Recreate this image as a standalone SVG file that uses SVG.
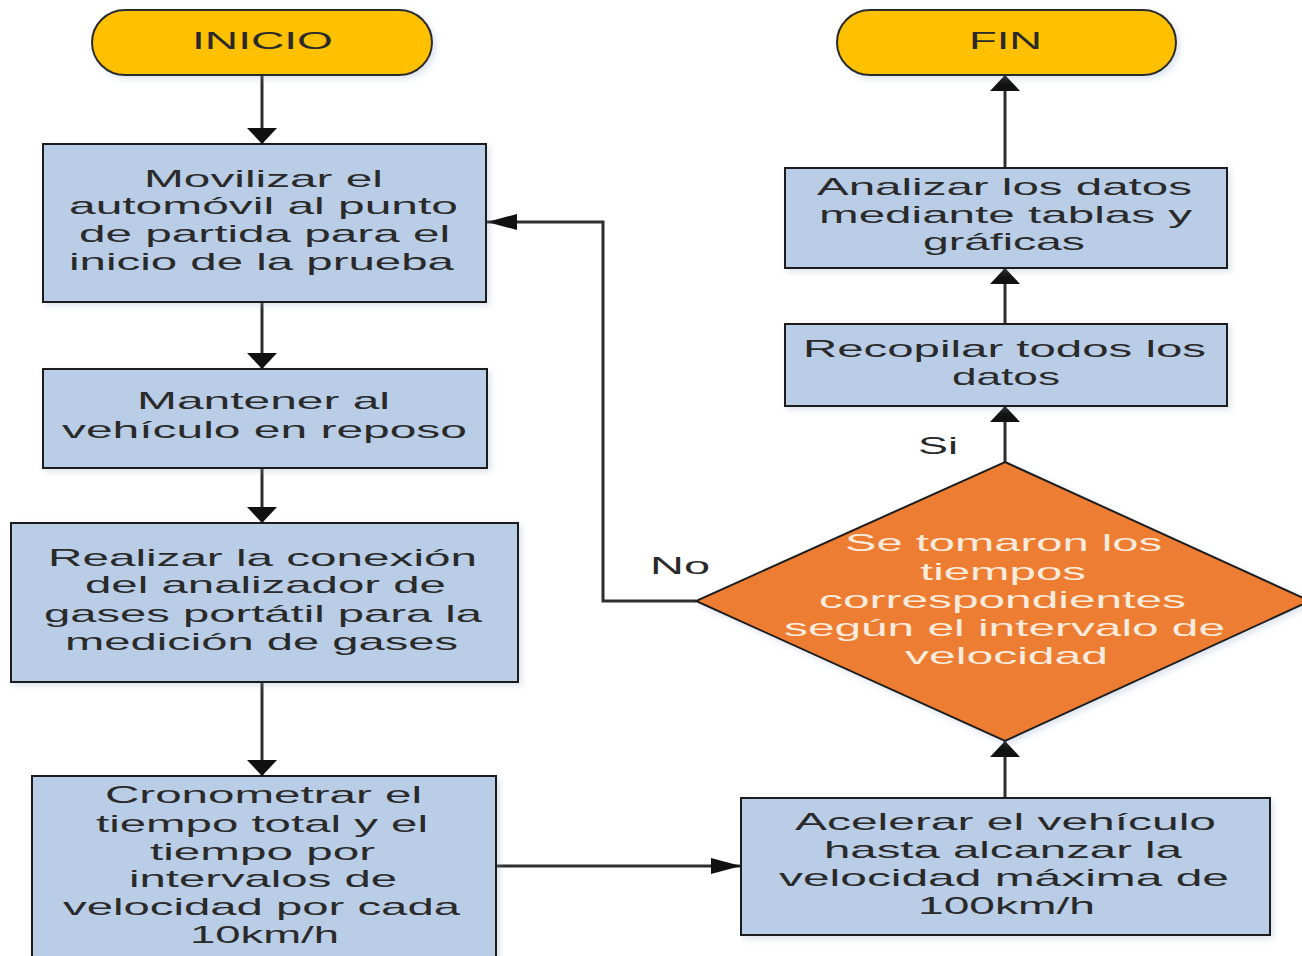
<svg xmlns="http://www.w3.org/2000/svg" width="1302" height="956" viewBox="0 0 1302 956">
<style>
  text { font-family: "Liberation Sans", Arial, sans-serif; font-size: 24px; fill: #2a2a2a; }
  .term { fill: #FFC000; stroke: #2b2b2b; stroke-width: 2; }
  .box { fill: #B9CDE6; stroke: #1f1f1f; stroke-width: 2; }
  .dec { fill: #ED7D31; stroke: #1f1f1f; stroke-width: 2; }
  .dt { fill: #FDEBDD; }
  .con { fill: none; stroke: #2e2e2e; stroke-width: 3; }
</style>
<defs>
  <filter id="sh" x="-10%" y="-10%" width="130%" height="130%">
    <feDropShadow dx="3" dy="3" stdDeviation="3" flood-color="#8ea6c8" flood-opacity="0.3"/>
  </filter>
  <marker id="arrV" markerUnits="userSpaceOnUse" viewBox="0 0 16 30" markerWidth="16" markerHeight="30" refX="16" refY="15" orient="auto">
    <path d="M0,0 L16,15 L0,30 Z" fill="#111"/>
  </marker>
  <marker id="arrH" markerUnits="userSpaceOnUse" viewBox="0 0 30 16" markerWidth="30" markerHeight="16" refX="30" refY="8" orient="auto">
    <path d="M0,0 L30,8 L0,16 Z" fill="#111"/>
  </marker>
</defs>
<rect width="1302" height="956" fill="#ffffff"/>

<g id="connectors">
  <path class="con" d="M262,75 V144" marker-end="url(#arrV)"/>
  <path class="con" d="M262,302 V369" marker-end="url(#arrV)"/>
  <path class="con" d="M262,468 V523" marker-end="url(#arrV)"/>
  <path class="con" d="M262,682 V776" marker-end="url(#arrV)"/>
  <path class="con" d="M496,866 H741" marker-end="url(#arrH)"/>
  <path class="con" d="M1005,798 V741" marker-end="url(#arrV)"/>
  <path class="con" d="M1005,462 V406" marker-end="url(#arrV)"/>
  <path class="con" d="M1005,324 V268" marker-end="url(#arrV)"/>
  <path class="con" d="M1005,168 V75" marker-end="url(#arrV)"/>
  <path class="con" d="M696,601 H603 V222 H487" marker-end="url(#arrH)"/>
  <text x="918" y="454" textLength="40" lengthAdjust="spacingAndGlyphs">Si</text>
  <text x="650" y="574" textLength="60" lengthAdjust="spacingAndGlyphs">No</text>
</g>

<g id="inicio">
  <rect class="term" x="92" y="10" width="340" height="65" rx="33" ry="32.5" filter="url(#sh)"/>
  <text x="192" y="49" textLength="141" lengthAdjust="spacingAndGlyphs">INICIO</text>
</g>

<g id="fin">
  <rect class="term" x="837" y="10" width="339" height="65" rx="33" ry="32.5" filter="url(#sh)"/>
  <text x="969" y="49" textLength="73" lengthAdjust="spacingAndGlyphs">FIN</text>
</g>

<g id="movilizar">
  <rect class="box" x="43" y="144" width="443" height="158" filter="url(#sh)"/>
  <text x="144" y="187" textLength="239" lengthAdjust="spacingAndGlyphs">Movilizar el</text>
  <text x="69" y="214" textLength="389" lengthAdjust="spacingAndGlyphs">automóvil al punto</text>
  <text x="79" y="242" textLength="371" lengthAdjust="spacingAndGlyphs">de partida para el</text>
  <text x="69" y="270" textLength="385" lengthAdjust="spacingAndGlyphs">inicio de la prueba</text>
</g>

<g id="mantener">
  <rect class="box" x="43" y="369" width="444" height="99" filter="url(#sh)"/>
  <text x="137" y="409" textLength="253" lengthAdjust="spacingAndGlyphs">Mantener al</text>
  <text x="62" y="438" textLength="405" lengthAdjust="spacingAndGlyphs">vehículo en reposo</text>
</g>

<g id="realizar">
  <rect class="box" x="11" y="523" width="507" height="159" filter="url(#sh)"/>
  <text x="48" y="566" textLength="429" lengthAdjust="spacingAndGlyphs">Realizar la conexión</text>
  <text x="85" y="593" textLength="361" lengthAdjust="spacingAndGlyphs">del analizador de</text>
  <text x="44" y="622" textLength="438" lengthAdjust="spacingAndGlyphs">gases portátil para la</text>
  <text x="65" y="650" textLength="393" lengthAdjust="spacingAndGlyphs">medición de gases</text>
</g>

<g id="cronometrar">
  <rect class="box" x="32" y="776" width="464" height="195" filter="url(#sh)"/>
  <text x="105" y="803" textLength="317" lengthAdjust="spacingAndGlyphs">Cronometrar el</text>
  <text x="96" y="832" textLength="332" lengthAdjust="spacingAndGlyphs">tiempo total y el</text>
  <text x="150" y="860" textLength="225" lengthAdjust="spacingAndGlyphs">tiempo por</text>
  <text x="129" y="887" textLength="268" lengthAdjust="spacingAndGlyphs">intervalos de</text>
  <text x="63" y="915" textLength="397" lengthAdjust="spacingAndGlyphs">velocidad por cada</text>
  <text x="190" y="943" textLength="149" lengthAdjust="spacingAndGlyphs">10km/h</text>
</g>

<g id="acelerar">
  <rect class="box" x="741" y="798" width="529" height="137" filter="url(#sh)"/>
  <text x="795" y="830" textLength="421" lengthAdjust="spacingAndGlyphs">Acelerar el vehículo</text>
  <text x="824" y="858" textLength="358" lengthAdjust="spacingAndGlyphs">hasta alcanzar la</text>
  <text x="779" y="886" textLength="450" lengthAdjust="spacingAndGlyphs">velocidad máxima de</text>
  <text x="918" y="914" textLength="177" lengthAdjust="spacingAndGlyphs">100km/h</text>
</g>

<g id="decision">
  <polygon class="dec" points="1005,462 1310,601 1005,741 696,601" filter="url(#sh)"/>
  <text class="dt" x="845" y="551" textLength="317" lengthAdjust="spacingAndGlyphs">Se tomaron los</text>
  <text class="dt" x="920" y="580" textLength="166" lengthAdjust="spacingAndGlyphs">tiempos</text>
  <text class="dt" x="819" y="608" textLength="367" lengthAdjust="spacingAndGlyphs">correspondientes</text>
  <text class="dt" x="784" y="636" textLength="441" lengthAdjust="spacingAndGlyphs">según el intervalo de</text>
  <text class="dt" x="905" y="664" textLength="203" lengthAdjust="spacingAndGlyphs">velocidad</text>
</g>

<g id="recopilar">
  <rect class="box" x="785" y="324" width="442" height="82" filter="url(#sh)"/>
  <text x="803" y="357" textLength="403" lengthAdjust="spacingAndGlyphs">Recopilar todos los</text>
  <text x="952" y="385" textLength="108" lengthAdjust="spacingAndGlyphs">datos</text>
</g>

<g id="analizar">
  <rect class="box" x="785" y="168" width="442" height="100" filter="url(#sh)"/>
  <text x="817" y="195" textLength="375" lengthAdjust="spacingAndGlyphs">Analizar los datos</text>
  <text x="819" y="223" textLength="373" lengthAdjust="spacingAndGlyphs">mediante tablas y</text>
  <text x="923" y="250" textLength="162" lengthAdjust="spacingAndGlyphs">gráficas</text>
</g>
</svg>
